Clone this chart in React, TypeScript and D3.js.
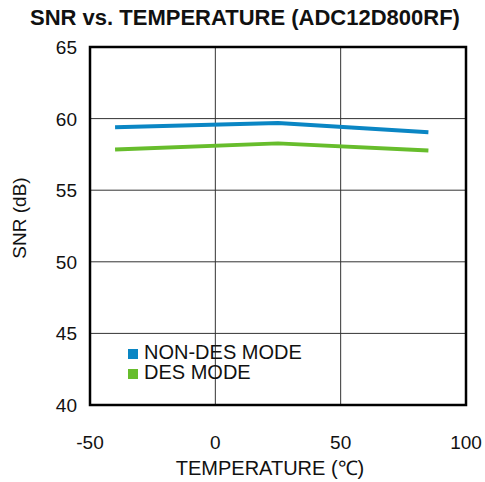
import React from 'react';
import * as d3 from 'd3';

const width = 485;
const height = 482;
const margin = { top: 47, right: 19, bottom: 77, left: 90 };

const temps = [-40, 25, 85];
const nonDes = [59.4, 59.7, 59.05];
const des = [57.85, 58.27, 57.78];
const xTicks = [-50, 0, 50, 100];
const yTicks = [40, 45, 50, 55, 60, 65];
const seriesNames = ['NON-DES MODE', 'DES MODE'];
const seriesColors = ['#0a86c4', '#67bd2c'];

const font = 'Liberation Sans, Arial, sans-serif';

const x = d3.scaleLinear().domain([-50, 100]).range([margin.left, width - margin.right]);
const y = d3.scaleLinear().domain([40, 65]).range([height - margin.bottom, margin.top]);

const line = d3.line<number>()
    .x((_, i) => x(temps[i]))
    .y(d => y(d));

const App = () => {
    const series = [nonDes, des];
    return (
        <svg width={width} height={height} style={{ position: 'absolute', left: 0, top: 0 }}>
            <text x={245} y={25} textAnchor="middle" fontFamily={font} fontWeight="bold" fontSize={22} fill="#111">
                SNR vs. TEMPERATURE (ADC12D800RF)
            </text>
            {yTicks.slice(1, -1).map(t => (
                <line key={'gy' + t} x1={x(-50)} x2={x(100)} y1={y(t)} y2={y(t)} stroke="#333" strokeWidth={1} />
            ))}
            {xTicks.slice(1, -1).map(t => (
                <line key={'gx' + t} x1={x(t)} x2={x(t)} y1={y(40)} y2={y(65)} stroke="#333" strokeWidth={1} />
            ))}
            {series.map((s, i) => (
                <path key={i} d={line(s) || ''} fill="none" stroke={seriesColors[i]} strokeWidth={4} strokeLinejoin="round" />
            ))}
            <rect x={x(-50)} y={y(65)} width={x(100) - x(-50)} height={y(40) - y(65)} fill="none" stroke="#000" strokeWidth={2.5} />
            {seriesNames.map((n, i) => (
                <g key={n}>
                    <rect x={128} y={349 + i * 20} width={10} height={10} fill={seriesColors[i]} />
                    <text x={144} y={359 + i * 20} fontFamily={font} fontSize={20} fill="#111">{n}</text>
                </g>
            ))}
            {yTicks.map(t => (
                <text key={'ty' + t} x={77} y={y(t) + 7} textAnchor="end" fontFamily={font} fontSize={19} fill="#111">{t}</text>
            ))}
            {xTicks.map(t => (
                <text key={'tx' + t} x={x(t)} y={449} textAnchor="middle" fontFamily={font} fontSize={19} fill="#111">{t}</text>
            ))}
            <text x={270} y={475} textAnchor="middle" fontFamily={font} fontSize={20} fill="#111">TEMPERATURE (℃)</text>
            <text transform={`translate(26,${218}) rotate(-90)`} textAnchor="middle" fontFamily={font} fontSize={19} fill="#111">SNR (dB)</text>
        </svg>
    );
};

export default App;
